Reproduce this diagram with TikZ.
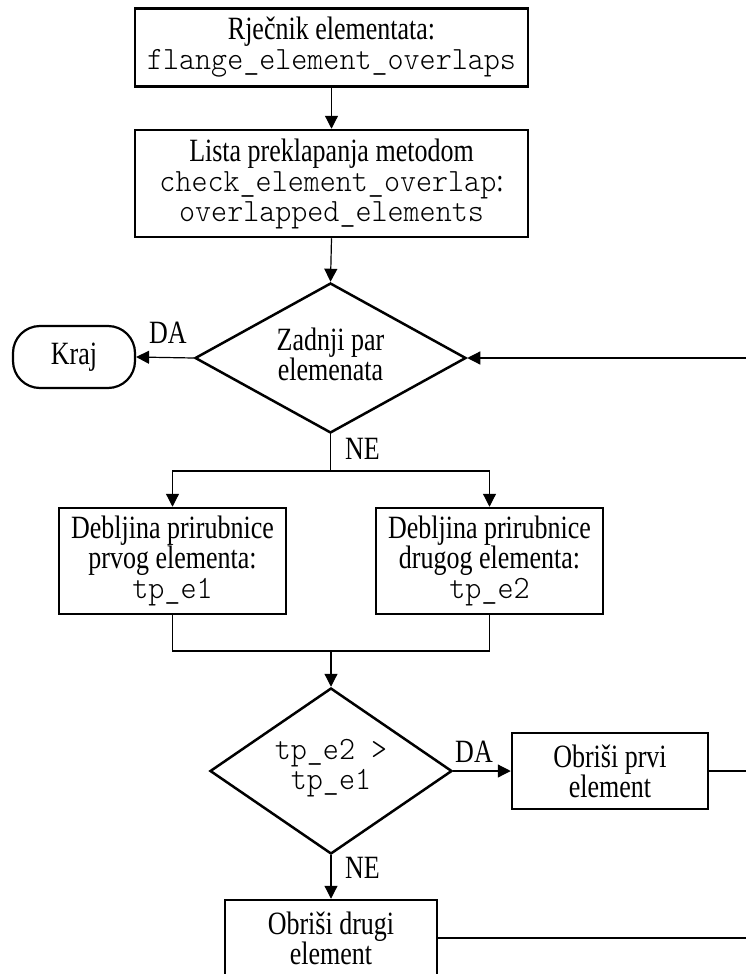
\documentclass[tikz,border=0pt]{standalone}
\usepackage{fontspec}
\setmainfont[FakeStretch=0.8]{Liberation Serif}
\setmonofont[FakeStretch=0.94]{lmmonolt10-regular.otf}
\usetikzlibrary{shapes.geometric,arrows.meta}
\begin{document}
\begin{tikzpicture}[x=1pt,y=-1pt,
  txt/.style={font=\fontsize{32.5}{30}\selectfont},
  box/.style={draw,line width=2.5pt,rectangle,inner sep=0pt,align=center,txt},
  dec/.style={draw,line width=2.5pt,diamond,inner sep=0pt},
  term/.style={draw,line width=2.2pt,rectangle,rounded corners=27pt,inner sep=0pt,txt},
  lbl/.style={txt,inner sep=0pt},
  conn/.style={line width=1.2pt},
  arr/.style={conn,-{Triangle[length=13pt,width=13pt]}},
]
\useasboundingbox (0,0) rectangle (746,974);
\clip (0,0) rectangle (746,974);

\node[box,minimum width=393pt,minimum height=78pt] (b1) at (331.5,47.5)
  {Rječnik elementata:\\\texttt{flange\_element\_overlaps}};
\node[box,minimum width=393pt,minimum height=107pt] (b2) at (331.5,183.5)
  {Lista preklapanja metodom\\\texttt{check\_element\_overlap}:\\\texttt{overlapped\_elements}};
\node[dec,minimum width=271pt,minimum height=150pt] (d1) at (330.5,358) {};
\node[txt,align=center,inner sep=0pt] (d1t) at (330.5,354) {Zadnji par\\elemenata};
\node[term,minimum width=122pt,minimum height=62pt] (kraj) at (74,357) {Kraj};

\node[box,minimum width=227pt,minimum height=106pt] (b3) at (172.5,561)
  {Debljina prirubnice\\prvog elementa:\\\texttt{tp\_e1}};
\node[box,minimum width=227pt,minimum height=106pt] (b4) at (489.5,561)
  {Debljina prirubnice\\drugog elementa:\\\texttt{tp\_e2}};

\node[dec,minimum width=242pt,minimum height=166pt] (d2) at (331,771) {};
\node[txt,align=center,inner sep=0pt] (d2t) at (331,768) {\texttt{tp\_e2 >}\\\texttt{tp\_e1}};
\node[box,minimum width=196pt,minimum height=76pt] (b5) at (610,771)
  {Obriši prvi\\element};
\node[box,minimum width=212pt,minimum height=76pt] (b6) at (331,938)
  {Obriši drugi\\element};

\coordinate (j1) at (330.5,471);
\coordinate (j2) at (331,651);
\coordinate (r1) at (760,358);
\coordinate (r2) at (760,771);
\coordinate (r3) at (760,938);

\draw[arr] (b1.south) -- (b2.north);
\draw[arr] (b2.south) -- (d1.north);
\draw[arr] (d1.west) -- (kraj.east);
\node[lbl] (da1) at (168,333) {DA};
\draw[arr] (r1) -- (d1.east);
\draw[conn] (d1.south) -- (j1);
\node[lbl,anchor=west] (ne1) at (345,449) {NE};
\draw[arr] (j1) -| (b3.north);
\draw[arr] (j1) -| (b4.north);
\draw[conn] (b3.south) |- (j2) -| (b4.south);
\draw[arr] (j2) -- (d2.north);
\draw[arr] (d2.east) -- (b5.west);
\node[lbl] (da2) at (474,752) {DA};
\draw[conn] (b5.east) -- (r2);
\draw[arr] (d2.south) -- (b6.north);
\node[lbl,anchor=west] (ne2) at (345,868) {NE};
\draw[conn] (b6.east) -- (r3);
\end{tikzpicture}
\end{document}
